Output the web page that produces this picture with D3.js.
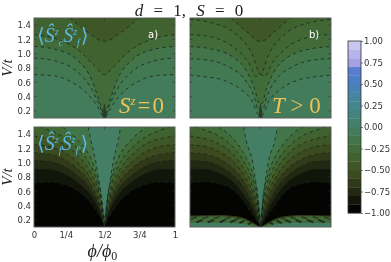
<!DOCTYPE html>
<html><head><meta charset="utf-8">
<script src="https://cdn.jsdelivr.net/npm/d3@7"></script>
<style>html,body{margin:0;padding:0;background:#fff}svg{display:block;filter:blur(0.3px)}</style>
</head><body><div id="c"></div>
<script>
// colour of each 0.1-wide band, from -1 upward
const levelColors=["#040502","#12160a","#222811","#313a18","#3b4a1f","#3f5626","#40622e","#416c3a","#427549","#437c5a","#45806e","#45847e","#45868e","#4685a0","#4882b2","#4e7fc4","#5a7ecf","#6b82d6","#7c8adb","#8f96df"];
const topColors=["#a4a2e3","#b7b3ea","#c9c6f0"];
const levelEdges=d3.range(21).map(i=>-1+i*0.1);
const cbTicks=[-1,-.75,-.5,-.25,0,.25,.5,.75,1];
const vTicks=[.2,.4,.6,.8,1,1.2,1.4];
const phiTicks=[0,.225,.5,.747,1];
const phiLabels=["0","1/4","1/2","3/4","1"];
// contours: left half [phi,V], mirrored about phi=1/2. level = band index above the contour
const panelA=[
 {level:8.5,pts:[[0,.707],[.137,.693],[.279,.59],[.385,.427],[.456,.24],[.492,.123]]},
 {level:8,pts:[[0,.94],[.16,.893],[.303,.753],[.397,.543],[.468,.263],[.495,.13]]},
 {level:7,pts:[[0,1.103],[.16,1.057],[.303,.917],[.409,.637],[.468,.31],[.497,.15]]},
 {level:6,pts:[[0,1.267],[.173,1.197],[.326,1.033],[.433,.823],[.5,.707]]},
 {level:5,pts:[[.255,1.5],[.374,1.313],[.5,1.173]]}
];
const panelB=[
 {level:8.5,pts:[[0,.70],[.1,.68],[.25,.62],[.36,.50],[.44,.34],[.49,.14]]},
 {level:8,pts:[[0,.93],[.13,.91],[.27,.82],[.38,.66],[.45,.43],[.49,.2]]},
 {level:7,pts:[[0,1.1],[.14,1.07],[.3,.96],[.4,.76],[.46,.5],[.49,.3]]},
 {level:6.5,pts:[[0,1.27],[.16,1.23],[.31,1.09],[.42,.86],[.47,.68],[.5,.71]]},
 {level:6,pts:[[0,1.48],[.16,1.43],[.33,1.27],[.44,1.0],[.5,.71]]},
 {level:5,pts:[[.29,1.5],[.39,1.33],[.5,1.17]]}
];
const panelC=[
 {level:1,pts:[[0,.72],[.11,.73],[.22,.69],[.32,.59],[.4,.44],[.45,.3],[.48,.2],[.5,.11]]},
 {level:2,pts:[[0,.91],[.1,.91],[.2,.86],[.3,.74],[.4,.55],[.45,.39],[.48,.24],[.5,.12]]},
 {level:3,pts:[[0,1.03],[.1,1.02],[.2,.96],[.3,.83],[.4,.63],[.45,.45],[.48,.27],[.5,.13]]},
 {level:4,pts:[[0,1.14],[.1,1.12],[.2,1.06],[.3,.93],[.4,.71],[.45,.51],[.48,.31],[.5,.14]]},
 {level:5,pts:[[0,1.25],[.1,1.23],[.2,1.16],[.3,1.02],[.4,.79],[.45,.58],[.48,.35],[.5,.15]]},
 {level:6,pts:[[0,1.37],[.1,1.34],[.2,1.27],[.3,1.12],[.4,.87],[.45,.65],[.48,.4],[.5,.16]]},
 {level:7,pts:[[.04,1.5],[.1,1.46],[.2,1.37],[.3,1.22],[.4,.96],[.45,.72],[.48,.45],[.5,.18]]},
 {level:8,pts:[[.2,1.5],[.3,1.34],[.4,1.07],[.45,.8],[.48,.52],[.5,.2]]},
 {level:9.5,pts:[[.385,1.5],[.405,1.3],[.435,1.05],[.47,.62],[.5,.24]]}
];
const panelD=[
 {level:1,pts:[[0,.72],[.11,.73],[.25,.68],[.34,.56],[.41,.37],[.47,.2],[.5,.11]]},
 {level:2,pts:[[0,.91],[.1,.91],[.2,.86],[.3,.74],[.39,.53],[.45,.33],[.48,.2],[.5,.12]]},
 {level:3,pts:[[0,1.03],[.1,1.02],[.2,.96],[.3,.83],[.39,.63],[.45,.4],[.48,.25],[.5,.13]]},
 {level:4,pts:[[0,1.14],[.1,1.12],[.2,1.06],[.3,.93],[.39,.72],[.45,.48],[.48,.3],[.5,.14]]},
 {level:5,pts:[[0,1.25],[.1,1.23],[.2,1.16],[.3,1.03],[.39,.8],[.45,.56],[.48,.36],[.5,.15]]},
 {level:6,pts:[[0,1.37],[.1,1.34],[.2,1.27],[.3,1.13],[.39,.89],[.45,.64],[.48,.42],[.5,.16]]},
 {level:7,pts:[[.04,1.5],[.1,1.46],[.2,1.38],[.3,1.23],[.39,.99],[.45,.73],[.48,.48],[.5,.18]]},
 {level:8,pts:[[.2,1.5],[.3,1.35],[.39,1.1],[.45,.82],[.48,.56],[.5,.2]]},
 {level:9.5,pts:[[.38,1.5],[.40,1.3],[.44,1.05],[.475,.62],[.5,.24]]}
];
// lower fringe of panel d: contours bounding bands below the curve
const fringeD=[
 {level:3,pts:[[0,.262],[.2,.268],[.36,.24],[.45,.16],[.5,.1]]},
 {level:7,pts:[[0,.245],[.2,.25],[.35,.222],[.44,.15],[.49,.1]]},
 {level:9.5,pts:[[0,.155],[.2,.155],[.34,.15],[.42,.125],[.46,.1]]}
];
// short slanted dark strokes inside that fringe: [phi0,V0,phi1,V1]
const fringeMarks=[[.045,.165,.09,.2],[.125,.165,.17,.2],[.21,.165,.25,.2],[.285,.165,.325,.2],[.35,.155,.385,.19],[.41,.135,.44,.17],
 [.01,.215,.05,.24],[.09,.22,.13,.245],[.17,.22,.21,.245],[.25,.215,.29,.24],[.32,.205,.36,.23]];
const spikeA=[[.485,.1],[.49,.2],[.5,.3]];

const W=391,H=262;
const svg=d3.select("#c").append("svg").attr("width",W).attr("height",H).attr("viewBox",[0,0,W,H]);
const defs=svg.append("defs");
const SER="'Liberation Serif','DejaVu Serif',serif",SANS="'DejaVu Sans',sans-serif";
const pw=141,ph=100;
const x=d3.scaleLinear().domain([0,1]).range([0,pw]);
const y=d3.scaleLinear().domain([.1,1.5]).range([ph,0]);
const colorOf=l=>l%1?d3.interpolateRgb(levelColors[Math.floor(l)],levelColors[Math.ceil(l)])(l%1):levelColors[l];
const mirror=p=>{const r=p.slice().reverse().map(d=>[1-d[0],d[1]]);return p[p.length-1][0]===.5?p.concat(r.slice(1)):p.concat(r);};
const area=d3.area().x(d=>x(d[0])).y0(0).y1(d=>y(d[1])).curve(d3.curveMonotoneX);
const under=d3.area().x(d=>x(d[0])).y0(ph).y1(d=>y(d[1])).curve(d3.curveMonotoneX);
const line=d3.line().x(d=>x(d[0])).y(d=>y(d[1])).curve(d3.curveMonotoneX);

function panel(id,px,py,base,conts,opts={}){
 const g=svg.append("g").attr("transform",`translate(${px},${py})`);
 defs.append("clipPath").attr("id","clip"+id).append("rect").attr("width",pw).attr("height",ph);
 const c=g.append("g").attr("clip-path",`url(#clip${id})`);
 c.append("rect").attr("width",pw).attr("height",ph).attr("fill",colorOf(base));
 conts.forEach(k=>c.append("path").attr("d",area(mirror(k.pts))).attr("fill",colorOf(k.level)));
 (opts.fringe||[]).forEach(k=>{
  const left=k.pts, right=k.pts.map(d=>[1-d[0],d[1]]).reverse();
  [left,right].forEach(s=>c.append("path").attr("d",under(s)).attr("fill",colorOf(k.level)));
 });
 conts.forEach(k=>c.append("path").attr("d",line(mirror(k.pts))).attr("fill","none").attr("stroke","#16221a").attr("stroke-width",.85).attr("stroke-dasharray","3.4,3.4").attr("opacity",.9));
 (opts.marks||[]).forEach((m,i)=>[m,[1-m[0],m[1],1-m[2],m[3]]].forEach(s=>c.append("line").attr("x1",x(s[0])).attr("y1",y(s[1])).attr("x2",x(s[2])).attr("y2",y(s[3])).attr("stroke",i<6?"#1c2a20":"#2c3a1c").attr("stroke-width",i<6?2:1.6)));
 if(opts.spike){c.append("path").attr("d",area.y0(ph)(mirror(opts.spike))).attr("fill","#2a3a25");area.y0(0);}
 // frame and ticks
 g.append("rect").attr("width",pw).attr("height",ph).attr("fill","none").attr("stroke","#5a5f5a").attr("stroke-width",1);
 const yTick=g.append("g");
 vTicks.forEach(v=>{[[0,2.5],[pw,pw-2.5]].forEach(s=>yTick.append("line").attr("x1",s[0]).attr("x2",s[1]).attr("y1",y(v)).attr("y2",y(v)).attr("stroke","#333").attr("stroke-width",.6));});
 [[0,2.5],[ph,ph-2.5]].forEach(s=>yTick.append("line").attr("x1",x(.5)).attr("x2",x(.5)).attr("y1",s[0]).attr("y2",s[1]).attr("stroke","#333").attr("stroke-width",.6));
 if(opts.yLabels){const a=d3.axisLeft(y).tickValues(vTicks).tickFormat(d3.format(".1f")).tickSize(0).tickPadding(3);
  const ax=g.append("g").call(a);ax.select(".domain").remove();ax.selectAll("text").attr("font-family",SANS).attr("font-size",8.5).attr("fill","#333");
  g.append("text").attr("transform",`translate(${-22},${ph/2}) rotate(-90)`).attr("text-anchor","middle").attr("font-family",SER).attr("font-style","italic").attr("font-size",15).attr("fill","#222").text("V/t");}
 if(opts.xLabels){const a=d3.axisBottom(x).tickValues(phiTicks).tickFormat((d,i)=>phiLabels[i]).tickSize(0).tickPadding(5);
  const ax=g.append("g").attr("transform",`translate(0,${ph})`).call(a);ax.select(".domain").remove();ax.selectAll("text").attr("font-family",SANS).attr("font-size",8.5).attr("fill","#333");
  const t=g.append("text").attr("x",x(.485)).attr("y",ph+30).attr("text-anchor","middle").attr("font-family",SER).attr("font-style","italic").attr("font-size",18).attr("fill","#222");
  t.append("tspan").text("ϕ/ϕ");t.append("tspan").attr("dy",3).attr("font-size",12).attr("font-style","normal").text("0");}
 return g;
}
panel("a",34,18,9,panelA,{yLabels:true,spike:spikeA});
panel("b",190,18,9,panelB,{spike:spikeA});
panel("c",34,127,0,panelC,{yLabels:true,xLabels:true});
panel("d",190,127,0,panelD,{fringe:fringeD,marks:fringeMarks});

// title
const title=svg.append("text").attr("x",189).attr("y",16).attr("text-anchor","middle").attr("font-family",SER).attr("font-size",17).attr("word-spacing",6).attr("fill","#222");
title.append("tspan").attr("font-style","italic").text("d");title.append("tspan").text(" = 1, ");title.append("tspan").attr("font-style","italic").text("S");title.append("tspan").text(" = 0");

// annotations
function math(xp,yp,size,fill,parts){const t=svg.append("text").attr("x",xp).attr("y",yp).attr("font-family",SER).attr("font-size",size).attr("fill",fill);
 parts.forEach(p=>{const s=t.append("tspan").text(p.t);if(p.i)s.attr("font-style","italic");if(p.dy)s.attr("dy",p.dy);if(p.dx)s.attr("dx",p.dx);if(p.fs)s.attr("font-size",p.fs);});return t;}
const blue="#5cb6e6",yel="#eec258";
math(37,42,20,blue,[{t:"⟨"},{t:"Ŝ",i:1},{t:"z",i:1,dy:-7,fs:10},{t:"c",i:1,dy:11,fs:10},{t:"Ŝ",i:1,dy:-4},{t:"z",i:1,dy:-7,fs:10},{t:"f",i:1,dy:11,fs:10},{t:"⟩",dy:-4,dx:1}]);
math(37,150,20,blue,[{t:"⟨"},{t:"Ŝ",i:1},{t:"z",i:1,dy:-7,fs:10},{t:"f",i:1,dy:11,fs:10},{t:"Ŝ",i:1,dy:-4},{t:"z",i:1,dy:-7,fs:10},{t:"f′",i:1,dy:11,fs:10},{t:"⟩",dy:-4}]);
math(119,113,23,yel,[{t:"S",i:1},{t:"z",i:1,dy:-8,fs:13},{t:"=",dy:8,dx:2},{t:"0",dx:2}]);
math(272,113,23,yel,[{t:"T",i:1},{t:" > 0"}]);
svg.append("text").attr("x",148).attr("y",38).attr("font-family",SANS).attr("font-size",10).attr("fill","#fff").text("a)");
svg.append("text").attr("x",309).attr("y",38).attr("font-family",SANS).attr("font-size",10).attr("fill","#fff").text("b)");

// colour bar
const cbX=348,cbW=13,cb=d3.scaleLinear().domain([-1,1]).range([213,41]);
const cg=svg.append("g");
levelEdges.slice(0,-1).forEach((e,i)=>cg.append("rect").attr("x",cbX).attr("width",cbW).attr("y",cb(levelEdges[i+1])).attr("height",cb(e)-cb(levelEdges[i+1])+.3).attr("fill",i<17?levelColors[i]:topColors[i-17]));
cg.append("rect").attr("x",cbX).attr("y",41).attr("width",cbW).attr("height",172).attr("fill","none").attr("stroke","#333").attr("stroke-width",.8);
const cax=d3.axisRight(cb).tickValues(cbTicks).tickSize(2).tickPadding(1).tickFormat(d=>d3.format(".2f")(d).replace("-","−"));
const ca=svg.append("g").attr("transform",`translate(${cbX+cbW},0)`).call(cax);
ca.select(".domain").remove();ca.selectAll("text").attr("font-family",SANS).attr("font-size",8.5).attr("fill","#333");ca.selectAll("line").attr("stroke","#333").attr("stroke-width",.6);
</script></body></html>
